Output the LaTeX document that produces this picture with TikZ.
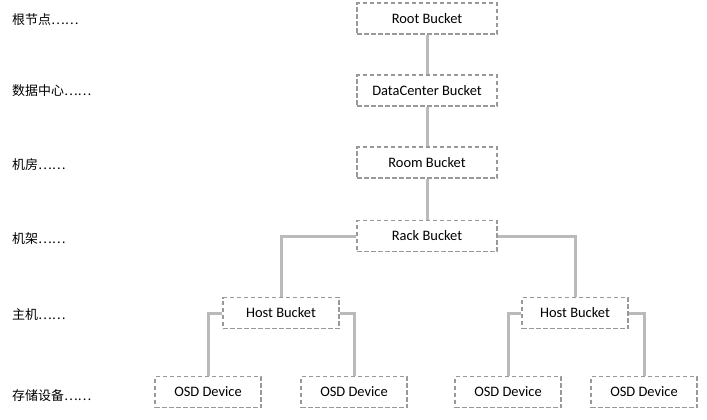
\documentclass[tikz,border=0pt]{standalone}
\usepackage{fontspec}
\setmainfont{Carlito}
\newfontfamily\cjk{Noto Sans CJK SC}
\begin{document}
\begin{tikzpicture}[x=1bp,y=-1bp,
  bucket/.style={draw=black!40,dashed,dash pattern=on 4.5bp off 2.5bp,line width=1.5bp,
    minimum height=31bp,inner sep=0pt,font=\fontsize{14.5}{16}\selectfont,text=black},
  link/.style={draw=black!27,line width=3bp},
  lvl/.style={anchor=west,inner sep=0pt,font=\cjk\fontsize{13}{15}\selectfont,text=black}]
\useasboundingbox (0,0) rectangle (707,419);
\node[bucket,minimum width=140bp] (root) at (427,18.5) {Root Bucket};
\node[bucket,minimum width=140bp] (dc) at (427,90.5) {DataCenter Bucket};
\node[bucket,minimum width=140bp] (room) at (427,162.5) {Room Bucket};
\node[bucket,minimum width=140bp] (rack) at (427,236) {Rack Bucket};
\node[bucket,minimum width=116bp] (h1) at (281,313) {Host Bucket};
\node[bucket,minimum width=106bp] (h2) at (575,313) {Host Bucket};
\node[bucket,minimum width=106bp] (o1) at (208,392) {OSD Device};
\node[bucket,minimum width=106bp] (o2) at (354,392) {OSD Device};
\node[bucket,minimum width=106bp] (o3) at (508,392) {OSD Device};
\node[bucket,minimum width=106bp] (o4) at (644,392) {OSD Device};
\node[lvl] (l1) at (12,20) {根节点……};
\node[lvl] (l2) at (12,91) {数据中心……};
\node[lvl] (l3) at (12,165) {机房……};
\node[lvl] (l4) at (12,239) {机架……};
\node[lvl] (l5) at (12,315) {主机……};
\node[lvl] (l6) at (12,396) {存储设备……};
\draw[link] (root) -- (dc);
\draw[link] (dc) -- (room);
\draw[link] (room) -- (rack);
\draw[link] (rack.west) -| (h1.north);
\draw[link] (rack.east) -| (h2.north);
\draw[link] (h1.west) -| (o1.north);
\draw[link] (h1.east) -| (o2.north);
\draw[link] (h2.west) -| (o3.north);
\draw[link] (h2.east) -| (o4.north);
\end{tikzpicture}
\end{document}
